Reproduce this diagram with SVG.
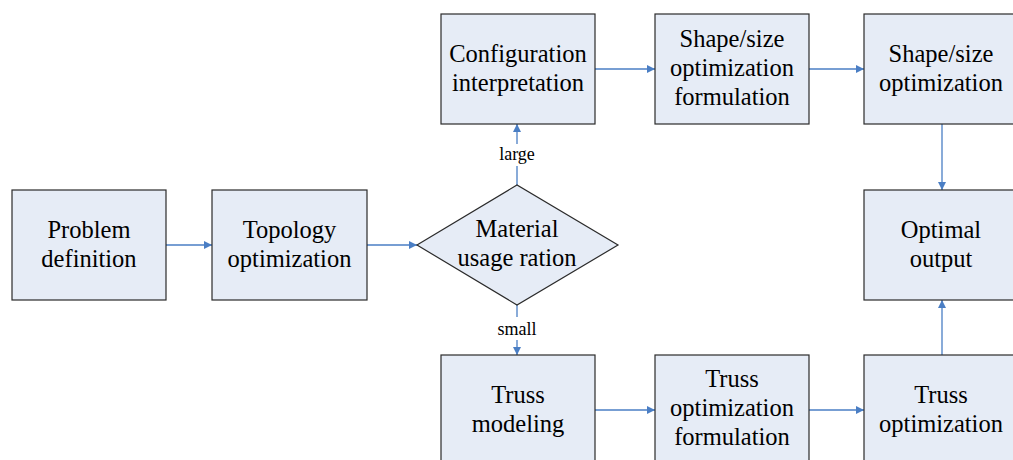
<svg xmlns="http://www.w3.org/2000/svg" width="1013" height="460" viewBox="0 0 1013 460">
  <style>
    .box { fill: #E6ECF6; stroke: #2b2b2b; stroke-width: 1.2; }
    .lbl { font-size: 24.5px; fill: #000; text-anchor: middle; }
    .edge { stroke: #4A7EC4; stroke-width: 1.3; fill: none; marker-end: url(#arrow); }
    .elbl { font-size: 18px; fill: #000; text-anchor: middle; }
  </style>
  <defs>
    <marker id="arrow" viewBox="0 0 10 10" refX="10" refY="5" markerWidth="10" markerHeight="8" markerUnits="userSpaceOnUse" orient="auto">
      <path d="M0,0 L10,5 L0,10 Z" fill="#4A7EC4"/>
    </marker>
  </defs>
  <rect width="1013" height="460" fill="#fff"/>

  <g font-family="Liberation Serif, Noto Serif, DejaVu Serif, Times New Roman, serif">
  <g id="connectors">
    <line class="edge" x1="166" y1="245" x2="212" y2="245"/>
    <line class="edge" x1="367" y1="245" x2="417" y2="245"/>
    <line class="edge" x1="517" y1="185" x2="517" y2="124"/>
    <rect x="496" y="144" width="42" height="22" fill="#fff"/>
    <text class="elbl" x="517" y="160">large</text>
    <line class="edge" x1="517" y1="305" x2="517" y2="355"/>
    <rect x="495" y="317" width="44" height="23" fill="#fff"/>
    <text class="elbl" x="517" y="335">small</text>
    <line class="edge" x1="595" y1="69" x2="655" y2="69"/>
    <line class="edge" x1="809" y1="69" x2="864" y2="69"/>
    <line class="edge" x1="942" y1="124" x2="942" y2="190"/>
    <line class="edge" x1="595" y1="410" x2="655" y2="410"/>
    <line class="edge" x1="809" y1="410" x2="864" y2="410"/>
    <line class="edge" x1="942" y1="355" x2="942" y2="300"/>
  </g>

  <g id="problem">
    <rect class="box" x="12" y="190" width="154" height="110"/>
    <text class="lbl" x="89" y="238">Problem</text>
    <text class="lbl" x="89" y="267">definition</text>
  </g>
  <g id="topology">
    <rect class="box" x="212" y="190" width="155" height="110"/>
    <text class="lbl" x="289.5" y="238">Topology</text>
    <text class="lbl" x="289.5" y="267">optimization</text>
  </g>
  <g id="material">
    <polygon class="box" points="417,245 517,185 618,245 517,305"/>
    <text class="lbl" x="517" y="237">Material</text>
    <text class="lbl" x="517" y="266">usage ration</text>
  </g>
  <g id="configuration">
    <rect class="box" x="441" y="14" width="154" height="110"/>
    <text class="lbl" x="518" y="62">Configuration</text>
    <text class="lbl" x="518" y="91">interpretation</text>
  </g>
  <g id="shape-formulation">
    <rect class="box" x="655" y="14" width="154" height="110"/>
    <text class="lbl" x="732" y="47">Shape/size</text>
    <text class="lbl" x="732" y="76">optimization</text>
    <text class="lbl" x="732" y="105">formulation</text>
  </g>
  <g id="shape-optimization">
    <rect class="box" x="864" y="14" width="154" height="110"/>
    <text class="lbl" x="941" y="62">Shape/size</text>
    <text class="lbl" x="941" y="91">optimization</text>
  </g>
  <g id="optimal">
    <rect class="box" x="864" y="190" width="154" height="110"/>
    <text class="lbl" x="941" y="238">Optimal</text>
    <text class="lbl" x="941" y="267">output</text>
  </g>
  <g id="truss-modeling">
    <rect class="box" x="441" y="355" width="154" height="110"/>
    <text class="lbl" x="518" y="403">Truss</text>
    <text class="lbl" x="518" y="432">modeling</text>
  </g>
  <g id="truss-formulation">
    <rect class="box" x="655" y="355" width="154" height="110"/>
    <text class="lbl" x="732" y="387">Truss</text>
    <text class="lbl" x="732" y="416">optimization</text>
    <text class="lbl" x="732" y="445">formulation</text>
  </g>
  <g id="truss-optimization">
    <rect class="box" x="864" y="355" width="154" height="110"/>
    <text class="lbl" x="941" y="403">Truss</text>
    <text class="lbl" x="941" y="432">optimization</text>
  </g>
  </g>
</svg>
